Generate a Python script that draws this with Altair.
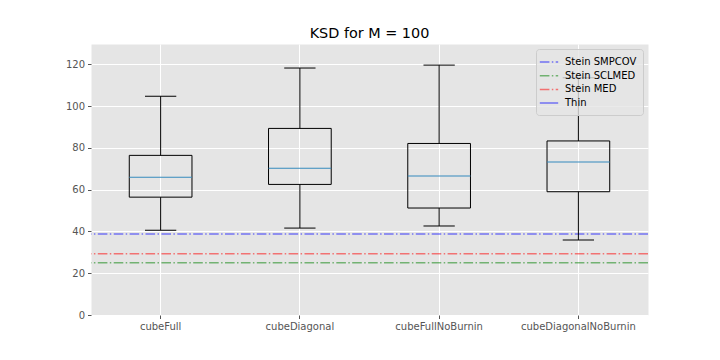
import altair as alt
import pandas as pd

# ---- data ----
categories = ["cubeFull", "cubeDiagonal", "cubeFullNoBurnin", "cubeDiagonalNoBurnin"]
whisker_low = [40.6, 41.6, 42.6, 35.9]
q1 = [56.4, 62.5, 51.2, 59.0]
median = [65.9, 70.2, 66.5, 73.2]
q3 = [76.4, 89.3, 82.1, 83.3]
whisker_high = [104.7, 118.2, 119.6, 113.5]

legend_series = ["Stein SMPCOV", "Stein SCLMED", "Stein MED", "Thin"]
legend_colors = ["#0000ff", "#008000", "#ff0000", "#0000ff"]
hline_series = ["Stein SMPCOV", "Stein SCLMED", "Stein MED"]
hline_values = [38.8, 25.0, 29.3]

y_ticks = [0, 20, 40, 60, 80, 100, 120]

FONT = "DejaVu Sans"

boxes = pd.DataFrame({
    "cat": categories, "lo": whisker_low, "q1": q1,
    "med": median, "q3": q3, "hi": whisker_high,
})
hlines = pd.DataFrame({"series": hline_series, "value": hline_values})

x_enc = alt.X(
    "cat:N", sort=categories,
    scale=alt.Scale(paddingInner=0, paddingOuter=0),
    axis=alt.Axis(
        title=None, labelAngle=0, bandPosition=0.5, grid=True,
        gridColor="white", gridWidth=1, domain=False,
        tickColor="#555555", tickSize=3.5, tickWidth=1,
        labelColor="#555555", labelFontSize=10, labelFont=FONT, labelPadding=3,
    ),
)
y_scale = alt.Scale(domain=[0, 129.7], nice=False, zero=False)
y_axis = alt.Axis(
    title=None, values=y_ticks, grid=True, gridColor="white", gridWidth=1,
    domain=False, tickColor="#555555", tickSize=3.5, tickWidth=1,
    labelColor="#555555", labelFontSize=10, labelFont=FONT, labelPadding=3,
)

BOX_W = 62.7
CAP_W = 31.3

box = alt.Chart(boxes).mark_bar(
    fillOpacity=0, stroke="black", strokeWidth=1, size=BOX_W
).encode(x=x_enc, y=alt.Y("q1:Q", scale=y_scale, axis=y_axis), y2="q3:Q")

whisk_up = alt.Chart(boxes).mark_rule(color="black", strokeWidth=1).encode(
    x=x_enc, y=alt.Y("q3:Q", scale=y_scale, axis=y_axis), y2="hi:Q")
whisk_dn = alt.Chart(boxes).mark_rule(color="black", strokeWidth=1).encode(
    x=x_enc, y=alt.Y("lo:Q", scale=y_scale, axis=y_axis), y2="q1:Q")

cap_hi = alt.Chart(boxes).mark_tick(color="black", thickness=1, size=CAP_W, opacity=1).encode(
    x=x_enc, y=alt.Y("hi:Q", scale=y_scale, axis=y_axis))
cap_lo = alt.Chart(boxes).mark_tick(color="black", thickness=1, size=CAP_W, opacity=1).encode(
    x=x_enc, y=alt.Y("lo:Q", scale=y_scale, axis=y_axis))
med = alt.Chart(boxes).mark_tick(color="#348ABD", thickness=1, size=BOX_W, opacity=1).encode(
    x=x_enc, y=alt.Y("med:Q", scale=y_scale, axis=y_axis))

dash = [9.6, 2.4, 1.5, 2.4]
lines = alt.Chart(hlines).mark_rule(strokeWidth=1.5, strokeOpacity=0.5).encode(
    y=alt.Y("value:Q", scale=y_scale, axis=y_axis),
    color=alt.Color(
        "series:N",
        scale=alt.Scale(domain=legend_series, range=legend_colors),
        legend=alt.Legend(
            title=None, orient="none", legendX=445, legendY=5,
            symbolType="M-1.5,0H1.5", symbolSize=150, symbolStrokeWidth=1.5,
            symbolOpacity=0.5, labelFontSize=10, labelFont=FONT, labelColor="black",
            labelOffset=9, rowPadding=1.7, padding=6,
            fillColor="rgba(229,229,229,0.8)", strokeColor="#cccccc", cornerRadius=3,
        ),
    ),
    strokeDash=alt.StrokeDash(
        "series:N",
        scale=alt.Scale(domain=legend_series, range=[dash, dash, dash, [1, 0]]),
        legend=None,
    ),
)

chart = alt.layer(lines, whisk_up, whisk_dn, box, cap_hi, cap_lo, med).properties(
    width=557, height=271,
    title=alt.TitleParams("KSD for M = 100", fontSize=14.4, font=FONT,
                          fontWeight="normal", color="black", anchor="middle",
                          baseline="bottom", offset=-11),
    autosize=alt.AutoSizeParams(type="none"),
    padding={"left": 83, "top": 36, "right": 64, "bottom": 37},
).configure(
    background="white",
    view=alt.ViewConfig(fill="#E5E5E5", stroke="transparent"),
)

chart.save("out.html", embed_options={"renderer": "svg", "actions": False})
